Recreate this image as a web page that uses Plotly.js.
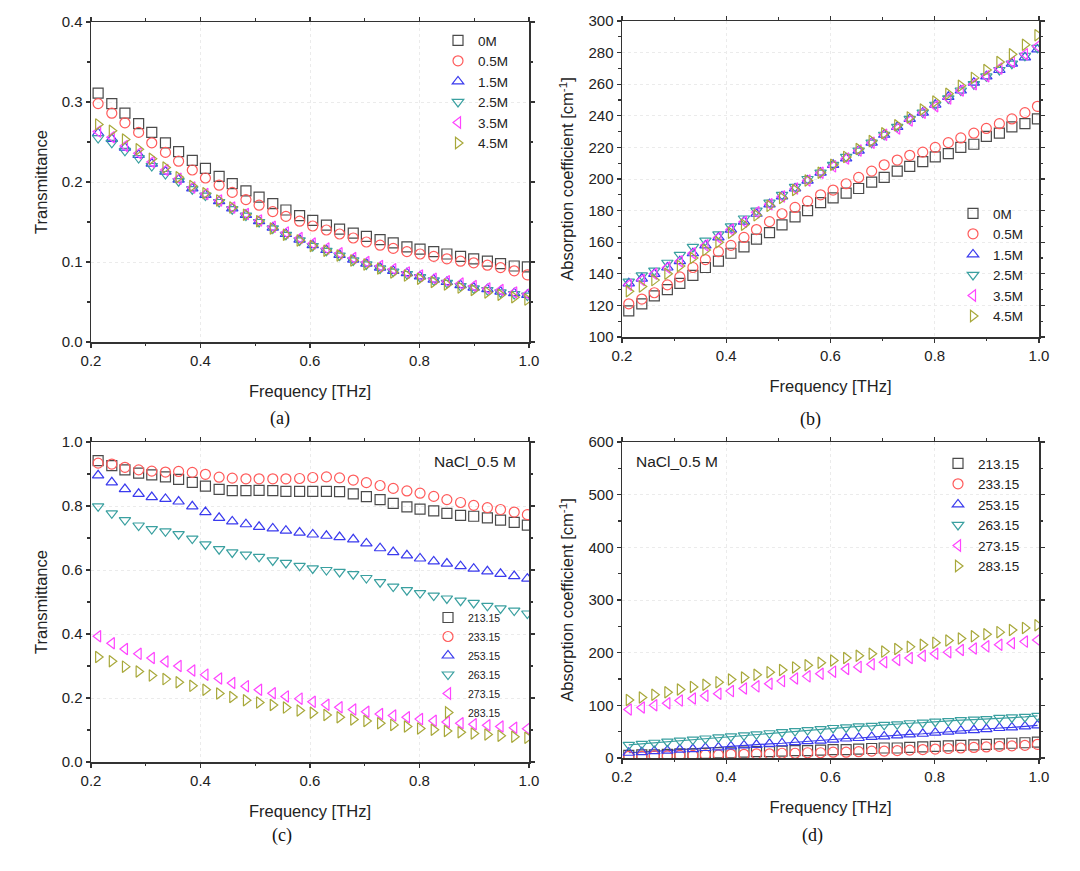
<!DOCTYPE html>
<html>
<head>
<meta charset="utf-8">
<script src="https://cdn.plot.ly/plotly-3.0.1.min.js"></script>
<style>html,body{margin:0;padding:0;background:#fff;}#chart{width:1080px;height:871px;}</style>
</head>
<body>
<div id="chart"></div>
<script>
// Frequency grid [THz]
const freq = [0.213,0.238,0.262,0.287,0.311,0.336,0.360,0.385,0.409,0.434,0.458,0.483,0.507,0.532,0.556,0.581,0.605,0.630,0.654,0.679,0.703,0.728,0.752,0.777,0.801,0.826,0.850,0.875,0.899,0.924,0.948,0.973,0.997];

// (a) Transmittance vs concentration
const concLabels = ['0M','0.5M','1.5M','2.5M','3.5M','4.5M'];
const T_0M  = [0.311,0.298,0.286,0.273,0.262,0.249,0.238,0.227,0.217,0.207,0.198,0.189,0.181,0.173,0.165,0.158,0.152,0.146,0.141,0.136,0.132,0.128,0.124,0.119,0.116,0.113,0.110,0.107,0.104,0.101,0.098,0.095,0.094];
const T_05M = [0.298,0.286,0.274,0.262,0.249,0.237,0.226,0.215,0.205,0.196,0.187,0.178,0.171,0.163,0.157,0.151,0.145,0.140,0.135,0.130,0.125,0.121,0.117,0.113,0.110,0.107,0.104,0.101,0.099,0.096,0.093,0.089,0.084];
const T_15M = [0.261,0.254,0.243,0.234,0.223,0.213,0.203,0.192,0.184,0.176,0.167,0.159,0.151,0.143,0.135,0.128,0.121,0.115,0.109,0.103,0.098,0.093,0.089,0.086,0.082,0.078,0.075,0.071,0.068,0.066,0.063,0.061,0.059];
const T_25M = [0.255,0.249,0.239,0.230,0.220,0.210,0.201,0.191,0.183,0.175,0.166,0.158,0.150,0.142,0.134,0.127,0.120,0.114,0.108,0.102,0.097,0.092,0.088,0.085,0.081,0.077,0.074,0.070,0.067,0.065,0.062,0.060,0.058];
const T_35M = [0.263,0.256,0.245,0.236,0.225,0.215,0.204,0.193,0.185,0.177,0.168,0.160,0.152,0.144,0.137,0.130,0.123,0.117,0.111,0.105,0.100,0.095,0.091,0.087,0.083,0.079,0.076,0.073,0.070,0.067,0.065,0.062,0.060];
const T_45M = [0.272,0.264,0.253,0.241,0.229,0.218,0.206,0.195,0.186,0.177,0.168,0.159,0.151,0.142,0.134,0.127,0.120,0.114,0.108,0.102,0.097,0.092,0.087,0.083,0.079,0.075,0.072,0.068,0.065,0.062,0.059,0.056,0.053];

// (b) Absorption coefficient vs concentration [cm^-1]
const A_0M  = [116.5,121,126,130,134,139,144,148,153,157,162,166,171,176,180,185,188,191,194,198,201,205,208,211,214,216,220,222,227,229,233,235,238];
const A_05M = [121,124,128,133,138,144,149,154,158,163,168,173,178,182,186,190,193,197,201,205,209,212,215,217,220,223,226,229,232,235,238,242,246];
const A_15M = [134,137,140,144,148,153,158,163,168,173,178,184,189,194,199,204,209,213,218,223,228,233,238,242,247,252,256,261,265,269,273,277,282];
const A_25M = [135,139,142,147,152,157,161,165,170,175,180,185,190,195,200,204,209,214,218,223,228,233,238,242,247,251,256,260,265,269,273,278,283];
const A_35M = [133,136,140,144,148,153,158,163,168,173,179,184,189,194,199,204,208,213,218,223,228,232,237,242,246,251,256,260,265,270,274,279,284];
const A_45M = [129,132,136,140,145,150,155,160,166,171,177,183,188,193,199,204,209,214,219,224,229,234,239,244,249,254,259,264,269,274,279,285,291];

// (c) Transmittance vs temperature (NaCl 0.5 M)
const tempLabels = ['213.15','233.15','253.15','263.15','273.15','283.15'];
const C_213 = [0.942,0.926,0.913,0.903,0.897,0.891,0.883,0.874,0.862,0.852,0.848,0.848,0.849,0.848,0.846,0.846,0.846,0.846,0.845,0.838,0.829,0.820,0.808,0.797,0.790,0.785,0.777,0.771,0.768,0.763,0.756,0.749,0.740];
const C_233 = [0.934,0.931,0.921,0.913,0.909,0.906,0.908,0.905,0.899,0.890,0.887,0.885,0.885,0.885,0.885,0.886,0.889,0.891,0.888,0.881,0.873,0.864,0.855,0.847,0.840,0.830,0.820,0.811,0.802,0.795,0.789,0.781,0.773];
const C_253 = [0.896,0.874,0.853,0.838,0.828,0.822,0.814,0.799,0.781,0.763,0.752,0.743,0.735,0.730,0.723,0.717,0.711,0.707,0.703,0.696,0.683,0.668,0.656,0.646,0.636,0.627,0.620,0.612,0.604,0.596,0.588,0.581,0.573];
const C_263 = [0.799,0.777,0.756,0.739,0.728,0.721,0.712,0.698,0.680,0.665,0.655,0.648,0.641,0.630,0.622,0.613,0.605,0.600,0.594,0.587,0.575,0.562,0.548,0.537,0.528,0.520,0.511,0.504,0.497,0.488,0.480,0.473,0.464];
const C_273 = [0.393,0.371,0.353,0.338,0.325,0.314,0.300,0.286,0.273,0.261,0.247,0.237,0.226,0.215,0.205,0.198,0.188,0.179,0.171,0.164,0.157,0.150,0.145,0.140,0.134,0.129,0.125,0.121,0.118,0.115,0.111,0.107,0.104];
const C_283 = [0.328,0.315,0.298,0.283,0.270,0.259,0.249,0.238,0.226,0.214,0.203,0.193,0.186,0.178,0.170,0.161,0.154,0.147,0.140,0.133,0.128,0.121,0.116,0.111,0.105,0.101,0.097,0.093,0.089,0.086,0.082,0.079,0.076];

// (d) Absorption coefficient vs temperature (NaCl 0.5 M)
const D_213 = [5,6,6,7,8,8,9,10,10,11,12,12,13,14,14,15,16,16,17,18,19,19,20,21,22,23,24,25,26,27,28,29,30];
const D_233 = [3,3,4,4,5,5,6,6,7,7,8,8,9,9,10,10,11,11,12,13,13,14,15,16,17,18,19,20,21,22,23,24,26];
const D_253 = [10,11,13,14,16,17,19,20,22,24,25,27,28,30,32,33,35,37,38,40,41,43,45,46,48,50,52,53,55,57,58,60,62];
const D_263 = [25,27,29,31,33,35,37,39,41,43,45,47,49,51,53,55,57,58,60,61,63,64,66,67,69,70,72,73,74,76,77,78,80];
const D_273 = [92,96,100,104,109,113,118,122,127,132,136,141,146,151,155,160,164,169,173,178,182,186,190,194,198,201,205,208,212,215,218,221,224];
const D_283 = [110,115,120,125,130,135,139,144,149,153,158,163,167,172,176,181,185,190,194,198,202,207,211,215,219,223,227,231,235,239,243,247,252];

const colors  = ['#4a4a4a','#ff5a5a','#3a3aee','#3aa0a0','#ff44ff','#a8a83a'];
const symbols = ['square-open','circle-open','triangle-up-open','triangle-down-open','triangle-left-open','triangle-right-open'];

function mk(y, i, name, xa, ya, leg, size) {
  return {x: freq, y: y, name: name, type: 'scatter', mode: 'markers',
    xaxis: xa, yaxis: ya, legend: leg,
    marker: {symbol: symbols[i], size: size || 10, color: colors[i], line: {width: 1.2, color: colors[i]}}};
}

const traces = [];
[T_0M,T_05M,T_15M,T_25M,T_35M,T_45M].forEach((s,i)=>traces.push(mk(s,i,concLabels[i],'x','y','legend')));
[A_0M,A_05M,A_15M,A_25M,A_35M,A_45M].forEach((s,i)=>traces.push(mk(s,i,concLabels[i],'x2','y2','legend2')));
[C_213,C_233,C_253,C_263,C_273,C_283].forEach((s,i)=>traces.push(mk(s,i,tempLabels[i],'x3','y3','legend3')));
// thin guide lines under (d) blue / cyan series
[[D_253,2],[D_263,3]].forEach(([s,i])=>traces.push({x:freq,y:s,type:'scatter',mode:'lines',xaxis:'x4',yaxis:'y4',showlegend:false,hoverinfo:'skip',line:{color:colors[i],width:1.2}}));
[D_213,D_233,D_253,D_263,D_273,D_283].forEach((s,i)=>traces.push(mk(s,i,tempLabels[i],'x4','y4','legend4')));

const FAM = 'Arial, Liberation Sans, sans-serif';
const tickFont = {family: FAM, size: 15, color: '#222'};
const titleFont = {family: FAM, size: 16.5, color: '#222'};

function ax(extra) {
  return Object.assign({
    showline: true, linecolor: '#333', linewidth: 1.5, mirror: 'ticks',
    ticks: 'outside', ticklen: 4, tickwidth: 1.2, tickcolor: '#333',
    showgrid: true, gridcolor: '#ebebeb', griddash: 'dot', gridwidth: 1,
    zeroline: false, tickfont: tickFont, automargin: false, fixedrange: true
  }, extra);
}
function xax(domain, anchor) {
  return ax({domain: domain, anchor: anchor, range: [0.2, 1.0], dtick: 0.2, tick0: 0.2, tickformat: '.1f',
    minor: {dtick: 0.1, ticks: 'outside', ticklen: 2.5, tickcolor: '#333', showgrid: false},
    title: {text: 'Frequency [THz]', font: titleFont, standoff: 18}});
}
function yax(domain, anchor, range, dtick, mdt, fmt, title) {
  return ax({domain: domain, anchor: anchor, range: range, dtick: dtick, tickformat: fmt,
    minor: {dtick: mdt, ticks: 'outside', ticklen: 2.5, tickcolor: '#333', showgrid: false},
    title: {text: title, font: titleFont, standoff: 10}});
}

const W = 1080, H = 871;
const px = v => v / W, py = v => 1 - v / H;

function leg(left, top, size) {
  return {x: px(left), y: py(top), xanchor: 'left', yanchor: 'top', bgcolor: 'rgba(0,0,0,0)',
    font: {family: FAM, size: size, color: '#222'}, itemwidth: 30, tracegroupgap: 0};
}

const capFont = {family: 'Liberation Serif, Times New Roman, serif', size: 18, color: '#111'};
const noteFont = {family: FAM, size: 15.5, color: '#222'};
const layout = {
  width: W, height: H, margin: {l: 0, r: 0, t: 0, b: 0},
  paper_bgcolor: '#fff', plot_bgcolor: '#fff', showlegend: true,
  xaxis:  xax([px(91), px(529)], 'y'),
  yaxis:  yax([py(342), py(22)], 'x', [0, 0.4], 0.1, 0.05, '.1f', 'Transmittance'),
  xaxis2: xax([px(622), px(1039)], 'y2'),
  yaxis2: yax([py(337), py(21)], 'x2', [100, 300], 20, 10, 'd', 'Absorption coefficient [cm<sup>-1</sup>]'),
  xaxis3: xax([px(91), px(529)], 'y3'),
  yaxis3: yax([py(762), py(442)], 'x3', [0, 1.0], 0.2, 0.1, '.1f', 'Transmittance'),
  xaxis4: xax([px(622), px(1039)], 'y4'),
  yaxis4: yax([py(758), py(442)], 'x4', [0, 600], 100, 50, 'd', 'Absorption coefficient [cm<sup>-1</sup>]'),
  legend:  leg(438, 25, 13.5),
  legend2: leg(953, 198, 13.5),
  legend3: leg(428, 603, 10.5),
  legend4: leg(938, 448, 13.5),
  annotations: [
    {xref: 'paper', yref: 'paper', x: px(518), y: py(461), xanchor: 'right', yanchor: 'middle', showarrow: false, text: 'NaCl_0.5 M', font: noteFont},
    {xref: 'paper', yref: 'paper', x: px(634), y: py(461), xanchor: 'left', yanchor: 'middle', showarrow: false, text: 'NaCl_0.5 M', font: noteFont},
    {xref: 'paper', yref: 'paper', x: px(280), y: py(418), xanchor: 'center', yanchor: 'middle', showarrow: false, text: '(a)', font: capFont},
    {xref: 'paper', yref: 'paper', x: px(810), y: py(420), xanchor: 'center', yanchor: 'middle', showarrow: false, text: '(b)', font: capFont},
    {xref: 'paper', yref: 'paper', x: px(282), y: py(835), xanchor: 'center', yanchor: 'middle', showarrow: false, text: '(c)', font: capFont},
    {xref: 'paper', yref: 'paper', x: px(812), y: py(835), xanchor: 'center', yanchor: 'middle', showarrow: false, text: '(d)', font: capFont}
  ]
};

Plotly.newPlot('chart', traces, layout, {displayModeBar: false, staticPlot: true});
</script>
</body>
</html>
